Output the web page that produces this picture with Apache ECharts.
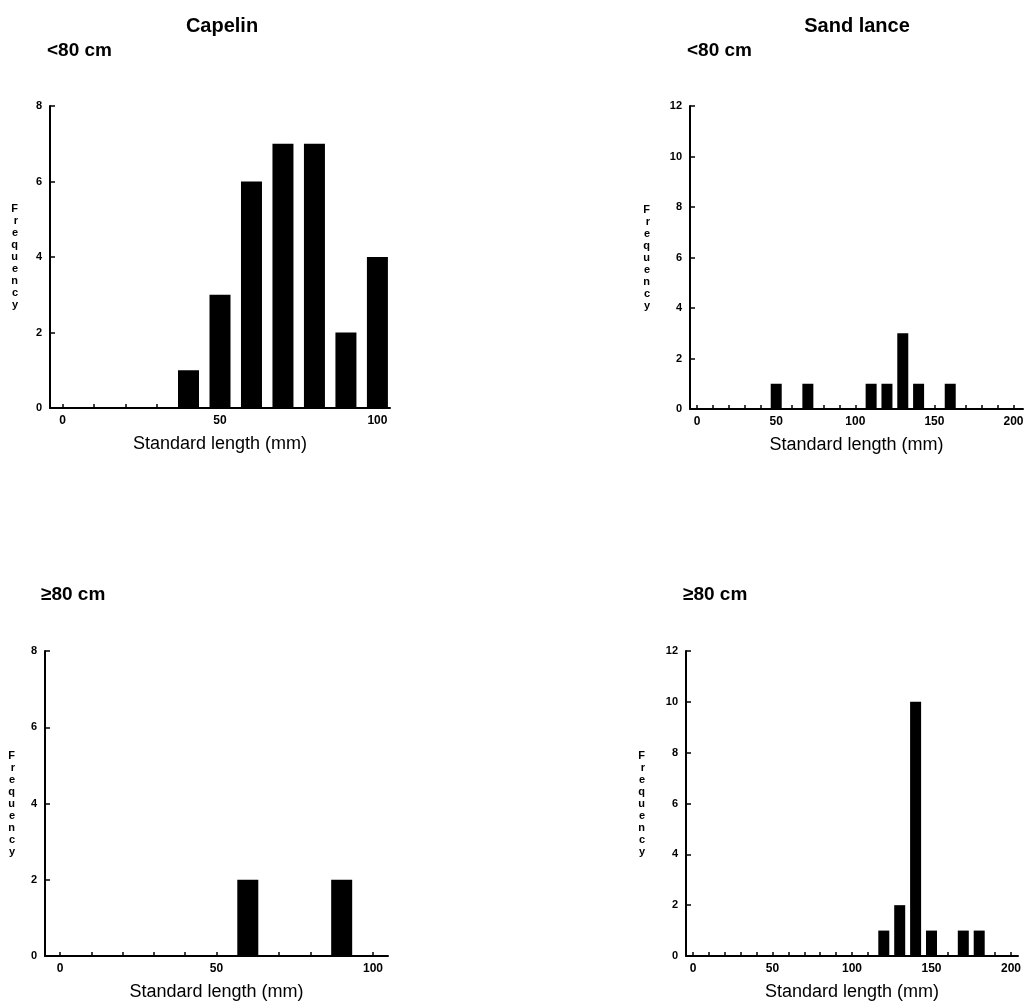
<!DOCTYPE html>
<html>
<head>
<meta charset="utf-8">
<script src="https://cdn.jsdelivr.net/npm/echarts@6/dist/echarts.min.js"></script>
<style>html,body{margin:0;padding:0;background:#fff;}#c{width:1029px;height:1004px;}</style>
</head>
<body>
<div id="c"></div>
<script>
// ---- data ----
const capelinSmallLen = [40, 50, 60, 70, 80, 90, 100];
const capelinSmallFreq = [1, 3, 6, 7, 7, 2, 4];
const sandSmallLen = [50, 70, 110, 120, 130, 140, 160];
const sandSmallFreq = [1, 1, 1, 1, 3, 1, 1];
const capelinLargeLen = [60, 90];
const capelinLargeFreq = [2, 2];
const sandLargeLen = [120, 130, 140, 150, 170, 180];
const sandLargeFreq = [1, 2, 10, 1, 1, 1];

const capelinXLabels = [0, 50, 100];
const sandXLabels = [0, 50, 100, 150, 200];
const capelinXTicks = [0, 10, 20, 30, 40, 50, 60, 70, 80, 90, 100];
const sandXTicks = [0, 10, 20, 30, 40, 50, 60, 70, 80, 90, 100, 110, 120, 130, 140, 150, 160, 170, 180, 190, 200];

const xName = 'Standard length (mm)';
const yName = 'Frequency';

const FONT = '"Liberation Sans", Arial, sans-serif';

function pairs(xs, ys) { return xs.map((x, i) => [x, ys[i]]); }

const grids = [
  { left: 50, top: 106, width: 340, height: 302 },
  { left: 690, top: 106, width: 333, height: 303 },
  { left: 45, top: 651, width: 343, height: 305 },
  { left: 686, top: 651, width: 332, height: 305 }
].map(g => Object.assign({ outerBoundsMode: 'none', containLabel: false }, g));

function xAxis(idx, min, max, ticks, labels) {
  return {
    type: 'value', gridIndex: idx, min: min, max: max,
    name: xName, nameLocation: 'middle', nameGap: 27,
    nameTextStyle: { fontFamily: FONT, fontSize: 18, color: '#000' },
    axisLine: { show: true, onZero: false, lineStyle: { color: '#000', width: 2 } },
    axisTick: { show: true, inside: true, length: 4, customValues: ticks, lineStyle: { color: '#000', width: 1.5 } },
    axisLabel: { show: true, customValues: labels, margin: 7, fontFamily: FONT, fontSize: 12, fontWeight: 'bold', color: '#000' },
    splitLine: { show: false }
  };
}
function yAxis(idx, max, gap) {
  return {
    type: 'value', gridIndex: idx, min: 0, max: max, interval: 2,
    name: yName.split('').join('\n'), nameLocation: 'middle', nameRotate: 0, nameGap: gap,
    nameTextStyle: { fontFamily: FONT, fontSize: 11, fontWeight: 'bold', color: '#000', lineHeight: 12 },
    axisLine: { show: true, onZero: false, lineStyle: { color: '#000', width: 2 } },
    axisTick: { show: true, inside: true, length: 5, lineStyle: { color: '#000', width: 1.5 } },
    axisLabel: { margin: 8, fontFamily: FONT, fontSize: 11, fontWeight: 'bold', color: '#000' },
    splitLine: { show: false }
  };
}
function bars(idx, data, w) {
  return {
    type: 'bar', xAxisIndex: idx, yAxisIndex: idx, data: data, barWidth: w,
    itemStyle: { color: '#000' }, silent: true, animation: false
  };
}
function txt(x, y, s, size, align) {
  return {
    type: 'text', x: x, y: y, silent: true,
    style: { text: s, font: 'bold ' + size + 'px ' + FONT, fill: '#000', align: align || 'left', verticalAlign: 'middle' }
  };
}

const chart = echarts.init(document.getElementById('c'), null, { renderer: 'canvas' });
chart.setOption({
  animation: false,
  backgroundColor: '#fff',
  grid: grids,
  xAxis: [
    xAxis(0, -4, 104, capelinXTicks, capelinXLabels),
    xAxis(1, -4.5, 206, sandXTicks, sandXLabels),
    xAxis(2, -4.8, 104.8, capelinXTicks, capelinXLabels),
    xAxis(3, -4.4, 204.4, sandXTicks, sandXLabels)
  ],
  yAxis: [
    yAxis(0, 8, 32),
    yAxis(1, 12, 40),
    yAxis(2, 8, 30),
    yAxis(3, 12, 41)
  ],
  series: [
    bars(0, pairs(capelinSmallLen, capelinSmallFreq), 21),
    bars(1, pairs(sandSmallLen, sandSmallFreq), 11),
    bars(2, pairs(capelinLargeLen, capelinLargeFreq), 21),
    bars(3, pairs(sandLargeLen, sandLargeFreq), 11)
  ],
  graphic: [
    txt(222, 26, 'Capelin', 20, 'center'),
    txt(857, 26, 'Sand lance', 20, 'center'),
    txt(47, 51, '<80 cm', 19),
    txt(687, 51, '<80 cm', 19),
    txt(41, 595, '≥80 cm', 19),
    txt(683, 595, '≥80 cm', 19)
  ]
});
</script>
</body>
</html>
